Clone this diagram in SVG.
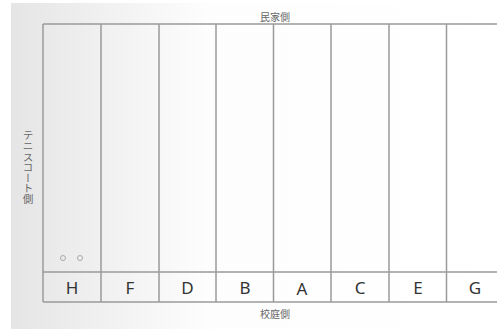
<svg xmlns="http://www.w3.org/2000/svg" width="497" height="329" viewBox="0 0 497 329">
<style>
.ln{stroke:#9a9a9a;stroke-width:1.5;fill:none}
.lbl{font-family:"Noto Sans","Noto Sans CJK JP",sans-serif;font-size:17px;fill:#333;text-anchor:middle}
.side{font-family:"Noto Sans CJK JP","Noto Sans",sans-serif;font-size:10px;fill:#666}
.dot{fill:none;stroke:#aaa;stroke-width:1}
</style>
<defs>
<linearGradient id="bg" x1="0" y1="0" x2="1" y2="0">
<stop offset="0" stop-color="#e5e5e5"/>
<stop offset="0.4" stop-color="#fdfdfd"/>
<stop offset="1" stop-color="#ffffff"/>
</linearGradient>
</defs>
<rect x="0" y="0" width="497" height="329" fill="#ffffff"/>
<rect x="11" y="3" width="486" height="326" fill="url(#bg)"/>
<g id="connectors">
<line class="ln" x1="43" y1="24" x2="497" y2="24"/>
<line class="ln" x1="43" y1="272" x2="497" y2="272"/>
<line class="ln" x1="43" y1="302" x2="497" y2="302"/>
<line class="ln" x1="43" y1="24" x2="43" y2="302"/>
<line class="ln" x1="101" y1="24" x2="101" y2="302"/>
<line class="ln" x1="159" y1="24" x2="159" y2="302"/>
<line class="ln" x1="216" y1="24" x2="216" y2="302"/>
<line class="ln" x1="273.5" y1="24" x2="273.5" y2="302"/>
<line class="ln" x1="331" y1="24" x2="331" y2="302"/>
<line class="ln" x1="389" y1="24" x2="389" y2="302"/>
<line class="ln" x1="446.5" y1="24" x2="446.5" y2="302"/>
</g>
<g id="col-H"><text class="lbl" x="72" y="294">H</text><circle class="dot" cx="63" cy="258" r="2.5"/><circle class="dot" cx="80" cy="258" r="2.5"/></g>
<g id="col-F"><text class="lbl" x="130" y="294">F</text></g>
<g id="col-D"><text class="lbl" x="187.5" y="294">D</text></g>
<g id="col-B"><text class="lbl" x="245" y="294">B</text></g>
<g id="col-A"><text class="lbl" x="302" y="295">A</text></g>
<g id="col-C"><text class="lbl" x="360" y="294">C</text></g>
<g id="col-E"><text class="lbl" x="418" y="294">E</text></g>
<g id="col-G"><text class="lbl" x="475" y="294">G</text></g>
<g id="side-top"><text class="side" x="260" y="21">民家側</text></g>
<g id="side-bottom"><text class="side" x="260" y="318">校庭側</text></g>
<g id="side-left"><text class="side" x="28" y="130" style="writing-mode:vertical-rl;font-size:10.6px">テニスコート側</text></g>
</svg>
